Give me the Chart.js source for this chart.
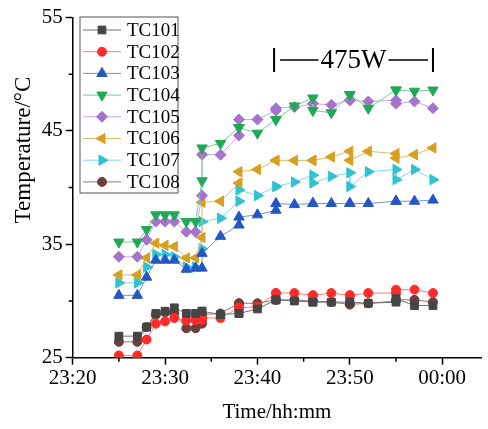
<!DOCTYPE html>
<html>
<head>
<meta charset="utf-8">
<script src="https://cdn.jsdelivr.net/npm/chart.js@4.4.0/dist/chart.umd.min.js"></script>
<style>
  html, body { margin: 0; padding: 0; background: #fff; }
  #wrap { width: 488px; height: 429px; }
</style>
</head>
<body>
<div id="wrap"><canvas id="chart"></canvas></div>
<script>
// minutes after 23:20 (some readings repeat at the same time)
const timeMinutes = [5, 7, 8, 9, 10, 11, 12.3, 13.3, 14, 14, 16, 18, 18, 20, 22, 22, 24, 26, 26, 28, 30, 30, 32, 35, 35, 37, 39];

const xTickValues = [0, 10, 20, 30, 40];
const xTickLabels = ['23:20', '23:30', '23:40', '23:50', '00:00'];
const xMinorTicks = [5, 15, 25, 35];
const yTickValues = [25, 35, 45, 55];
const yMinorTicks = [30, 40, 50];

const tc101 = [26.9, 26.9, 27.7, 28.9, 29.1, 29.4, 28.9, 28.9, 29.1, 29.1, 28.8, 28.9, 28.9, 29.3, 30.1, 30.1, 30.0, 29.9, 29.9, 29.9, 29.9, 29.9, 29.8, 29.9, 30.2, 29.6, 29.6];
const tc102 = [25.2, 25.2, 26.6, 28.0, 28.2, 28.5, 28.3, 28.3, 28.3, 28.5, 28.5, 29.4, 29.4, 29.5, 30.7, 30.7, 30.7, 30.5, 30.5, 30.7, 30.5, 30.5, 30.7, 30.7, 31.0, 31.0, 30.7];
const tc103 = [30.5, 30.5, 32.1, 33.6, 33.6, 33.6, 32.8, 32.9, 32.9, 34.2, 35.7, 36.7, 37.4, 37.6, 38.0, 38.6, 38.5, 38.6, 38.6, 38.6, 38.6, 38.6, 38.6, 38.8, 38.8, 38.8, 38.9];
const tc104 = [35.2, 35.2, 36.3, 37.6, 37.6, 37.6, 37.0, 37.0, 40.6, 43.5, 43.9, 45.3, 45.3, 44.8, 46.0, 46.0, 47.2, 47.9, 46.8, 46.6, 48.2, 48.2, 47.0, 48.6, 48.6, 48.5, 48.6];
const tc105 = [33.9, 33.9, 35.4, 37.0, 37.0, 37.0, 36.1, 36.1, 39.3, 42.9, 42.9, 44.6, 46.0, 46.0, 46.8, 47.0, 47.1, 47.4, 47.4, 47.3, 47.7, 47.7, 47.6, 47.7, 47.4, 47.6, 47.0];
const tc106 = [32.3, 32.3, 33.8, 35.1, 34.9, 34.8, 33.8, 33.8, 35.6, 38.7, 38.8, 40.4, 41.4, 41.6, 42.4, 42.4, 42.4, 42.4, 42.4, 42.7, 43.2, 42.4, 43.2, 43.0, 42.6, 42.9, 43.5];
const tc107 = [31.6, 31.6, 33.0, 34.1, 34.1, 33.9, 33.0, 33.0, 34.6, 37.0, 37.3, 38.8, 39.8, 39.3, 40.1, 40.1, 40.5, 41.1, 40.4, 41.0, 41.3, 40.1, 41.4, 41.6, 40.7, 41.6, 40.7];
const tc108 = [26.4, 26.4, 27.7, 28.8, 29.0, 28.9, 27.6, 27.6, 28.0, 28.8, 28.9, 29.8, 29.8, 29.8, 30.1, 30.1, 30.1, 30.0, 30.0, 29.9, 29.7, 29.7, 29.8, 30.0, 30.1, 30.1, 29.9];

// 475W heating period (minutes after 23:20)
const powerLabel = '475W';
const powerStart = 21.8;
const powerEnd = 39.0;
const powerLevel = 51.25;

const serif = '"Liberation Serif", "Times New Roman", serif';

function series(label, values, color, lineColor, style, rotation, radius) {
    return {
        label: label,
        data: timeMinutes.map((t, i) => ({ x: t, y: values[i] })),
        borderColor: lineColor,
        borderWidth: 1,
        backgroundColor: color,
        pointBackgroundColor: color,
        pointBorderColor: color,
        pointBorderWidth: 1,
        pointStyle: style,
        pointRotation: rotation,
        pointRadius: radius,
        tension: 0,
        fill: false
    };
}

const datasets = [
    series('TC101', tc101, '#454545', '#707070', 'rect', 0, 5.5),
    series('TC102', tc102, '#ff2b2b', '#ff7a7a', 'circle', 0, 4.5),
    series('TC103', tc103, '#2457c4', '#6f90dc', 'triangle', 0, 6),
    series('TC104', tc104, '#1fa956', '#78cc96', 'triangle', 180, 6),
    series('TC105', tc105, '#a673cc', '#c6a4e0', 'rectRot', 0, 5.5),
    series('TC106', tc106, '#d7a01f', '#e2bb62', 'triangle', 270, 6),
    series('TC107', tc107, '#2dc3d3', '#84dbe5', 'triangle', 90, 6),
    series('TC108', tc108, '#6e3e3e', '#9b7272', 'circle', 0, 4.5)
];

const extras = {
    id: 'extras',
    afterDraw(chart) {
        const ctx = chart.ctx;
        const xs = chart.scales.x;
        const ys = chart.scales.y;
        const area = chart.chartArea;
        ctx.save();

        // minor ticks
        ctx.strokeStyle = '#000';
        ctx.lineWidth = 1.5;
        ctx.beginPath();
        xMinorTicks.forEach(v => {
            const px = xs.getPixelForValue(v);
            ctx.moveTo(px, area.bottom);
            ctx.lineTo(px, area.bottom + 4);
        });
        yMinorTicks.forEach(v => {
            const py = ys.getPixelForValue(v);
            ctx.moveTo(area.left, py);
            ctx.lineTo(area.left - 4, py);
        });
        ctx.stroke();

        // y axis title
        ctx.fillStyle = '#000';
        ctx.font = '23px ' + serif;
        ctx.textAlign = 'center';
        ctx.textBaseline = 'middle';
        ctx.translate(24, 150);
        ctx.rotate(-Math.PI / 2);
        ctx.fillText('Temperature/\u00B0C', 0, 0);
        ctx.setTransform(1, 0, 0, 1, 0, 0);

        // 475W marker
        const xl = xs.getPixelForValue(powerStart);
        const xr = xs.getPixelForValue(powerEnd);
        const yc = ys.getPixelForValue(powerLevel);
        const mid = (xl + xr) / 2;
        ctx.font = '27px ' + serif;
        const w = ctx.measureText(powerLabel).width;
        ctx.fillText(powerLabel, mid, yc + 1);
        ctx.lineWidth = 2;
        ctx.beginPath();
        ctx.moveTo(xl, yc - 12); ctx.lineTo(xl, yc + 12);
        ctx.moveTo(xr, yc - 12); ctx.lineTo(xr, yc + 12);
        ctx.stroke();
        ctx.lineWidth = 1.5;
        ctx.beginPath();
        ctx.moveTo(xl + 6, yc); ctx.lineTo(mid - w / 2 - 2, yc);
        ctx.moveTo(mid + w / 2 + 2, yc); ctx.lineTo(xr - 5, yc);
        ctx.stroke();

        // legend
        const bx = 80, by = 17, bw = 98, bh = 176;
        ctx.strokeStyle = '#555';
        ctx.lineWidth = 1;
        ctx.strokeRect(bx, by, bw, bh);
        ctx.font = '19px ' + serif;
        ctx.textAlign = 'left';
        chart.data.datasets.forEach((ds, i) => {
            const ry = 30 + i * 21.7;
            ctx.strokeStyle = ds.borderColor;
            ctx.lineWidth = 1;
            ctx.beginPath();
            ctx.moveTo(83, ry); ctx.lineTo(121, ry);
            ctx.stroke();
            ctx.fillStyle = ds.pointBackgroundColor;
            ctx.strokeStyle = ds.pointBorderColor;
            Chart.helpers.drawPoint(ctx, {
                pointStyle: ds.pointStyle,
                rotation: ds.pointRotation,
                radius: ds.pointRadius,
                borderWidth: 1
            }, 102, ry);
            ctx.fillStyle = '#000';
            ctx.fillText(ds.label, 127, ry + 1);
        });
        ctx.restore();
    }
};

new Chart(document.getElementById('chart'), {
    type: 'line',
    data: { datasets: datasets },
    plugins: [extras],
    options: {
        responsive: true,
        maintainAspectRatio: false,
        animation: false,
        layout: { padding: { top: 17.5, left: 0, right: 0, bottom: 0 } },
        plugins: {
            legend: { display: false },
            tooltip: { enabled: false }
        },
        scales: {
            x: {
                type: 'linear',
                min: 0,
                max: 44.2,
                afterBuildTicks: s => { s.ticks = xTickValues.map(v => ({ value: v })); },
                afterFit: s => { s.height = 71.3; },
                ticks: {
                    callback: (v, i) => xTickLabels[i],
                    color: '#000',
                    font: { family: serif, size: 21 },
                    padding: 1,
                    maxRotation: 0,
                    autoSkip: false
                },
                grid: { drawOnChartArea: false, tickLength: 7, tickColor: '#000', tickWidth: 1.5 },
                border: { color: '#000', width: 1.5 },
                title: {
                    display: true,
                    text: 'Time/hh:mm',
                    color: '#000',
                    font: { family: serif, size: 21 },
                    padding: { top: 0, bottom: 4 }
                }
            },
            y: {
                type: 'linear',
                min: 25,
                max: 55,
                afterBuildTicks: s => { s.ticks = yTickValues.map(v => ({ value: v })); },
                afterFit: s => { s.width = 72.7; },
                ticks: {
                    callback: v => String(v),
                    color: '#000',
                    font: { family: serif, size: 21 },
                    padding: 3
                },
                grid: { drawOnChartArea: false, tickLength: 7, tickColor: '#000', tickWidth: 1.5 },
                border: { color: '#000', width: 1.5 }
            }
        }
    }
});
</script>
</body>
</html>
